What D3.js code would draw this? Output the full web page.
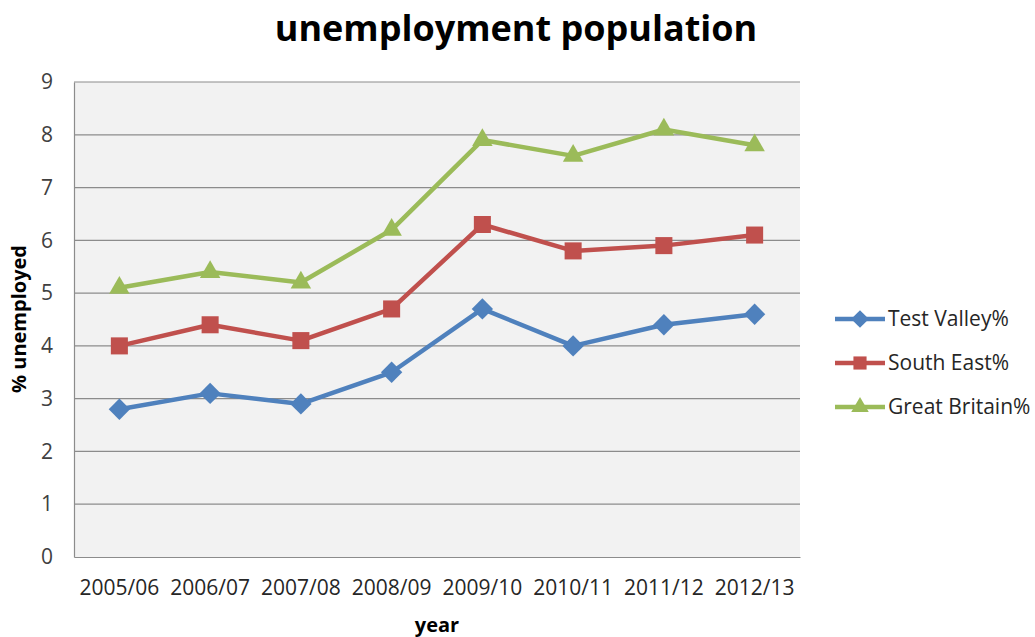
<!DOCTYPE html>
<html>
<head>
<meta charset="utf-8">
<script src="https://cdn.jsdelivr.net/npm/d3@7"></script>
<style>
  html, body { margin: 0; padding: 0; background: #ffffff; }
  svg { display: block; }
  text { font-family: "Open Sans", "Liberation Sans", sans-serif; }
</style>
</head>
<body>
<svg id="chart" width="1035" height="637"></svg>
<script>
// Academic years on the x axis
const years = ["2005/06", "2006/07", "2007/08", "2008/09", "2009/10", "2010/11", "2011/12", "2012/13"];

// Unemployment rates (%) per area
const testValley = [2.8, 3.1, 2.9, 3.5, 4.7, 4.0, 4.4, 4.6];
const southEast = [4.0, 4.4, 4.1, 4.7, 6.3, 5.8, 5.9, 6.1];
const greatBritain = [5.1, 5.4, 5.2, 6.2, 7.9, 7.6, 8.1, 7.8];

const seriesNames = ["Test Valley%", "South East%", "Great Britain%"];
const yTicks = [0, 1, 2, 3, 4, 5, 6, 7, 8, 9];

const series = [
  { name: seriesNames[0], values: testValley, color: "#4f81bd", symbol: d3.symbolDiamond2, size: 290, legendSize: 200 },
  { name: seriesNames[1], values: southEast, color: "#c0504d", symbol: d3.symbolSquare2, size: 370, legendSize: 220 },
  { name: seriesNames[2], values: greatBritain, color: "#9bbb59", symbol: d3.symbolTriangle2, size: 300, legendSize: 220 }
];

const svg = d3.select("#chart");
const plot = { left: 74, right: 800, top: 82, bottom: 557 };

const x = d3.scaleBand().domain(years).range([plot.left, plot.right]);
const y = d3.scaleLinear().domain([0, 9]).range([plot.bottom, plot.top]);

// Plot background
svg.append("rect")
  .attr("x", plot.left).attr("y", plot.top)
  .attr("width", plot.right - plot.left).attr("height", plot.bottom - plot.top)
  .attr("fill", "#f2f2f2");

// Horizontal gridlines
svg.append("g")
  .selectAll("line")
  .data(yTicks.filter(t => t > 0))
  .join("line")
  .attr("x1", plot.left).attr("x2", plot.right)
  .attr("y1", d => y(d)).attr("y2", d => y(d))
  .attr("stroke", "#8c8c8c").attr("stroke-width", 1.2);

// Y axis
const yAxis = svg.append("g")
  .attr("transform", `translate(${plot.left},0)`)
  .call(d3.axisLeft(y).tickValues(yTicks).tickSize(0).tickPadding(21).tickFormat(d3.format("d")));
yAxis.select(".domain").attr("stroke", "#8c8c8c").attr("stroke-width", 1.2);
yAxis.selectAll("text").attr("font-size", 21).attr("fill", "#404040")
  .style("font-family", "'Open Sans', sans-serif");

// X axis
const xAxis = svg.append("g")
  .attr("transform", `translate(0,${plot.bottom})`)
  .call(d3.axisBottom(x).tickSize(0).tickPadding(23));
xAxis.select(".domain").attr("stroke", "#8c8c8c").attr("stroke-width", 1.2);
xAxis.selectAll("text").attr("font-size", 21).attr("fill", "#262626")
  .style("font-family", "'Open Sans', sans-serif");

// Lines and markers
const line = d3.line()
  .x((d, i) => x(years[i]) + x.bandwidth() / 2)
  .y(d => y(d));

series.forEach(s => {
  svg.append("path")
    .datum(s.values)
    .attr("d", line)
    .attr("fill", "none")
    .attr("stroke", s.color)
    .attr("stroke-width", 4.5)
    .attr("stroke-linejoin", "round");

  svg.append("g")
    .selectAll("path")
    .data(s.values)
    .join("path")
    .attr("transform", (d, i) => `translate(${x(years[i]) + x.bandwidth() / 2},${y(d)})`)
    .attr("d", d3.symbol().type(s.symbol).size(s.size))
    .attr("fill", s.color);
});

// Title
svg.append("text")
  .attr("x", 516).attr("y", 41)
  .attr("text-anchor", "middle")
  .attr("font-size", 36).attr("font-weight", "bold").attr("fill", "#000")
  .text("unemployment population");

// Axis titles
svg.append("text")
  .attr("x", 437).attr("y", 632)
  .attr("text-anchor", "middle")
  .attr("font-size", 20).attr("font-weight", "bold").attr("fill", "#000")
  .text("year");

svg.append("text")
  .attr("transform", "translate(26,319) rotate(-90)")
  .attr("text-anchor", "middle")
  .attr("font-size", 20).attr("font-weight", "bold").attr("fill", "#000")
  .text("% unemployed");

// Legend
const legend = svg.append("g")
  .selectAll("g")
  .data(series)
  .join("g")
  .attr("transform", (d, i) => `translate(835,${319 + i * 44})`);

legend.append("line")
  .attr("x1", 0).attr("x2", 50)
  .attr("stroke", d => d.color).attr("stroke-width", 4.5);

legend.append("path")
  .attr("transform", "translate(25,0)")
  .attr("d", d => d3.symbol().type(d.symbol).size(d.legendSize)())
  .attr("fill", d => d.color);

legend.append("text")
  .attr("x", 53).attr("y", 0).attr("dy", "0.35em")
  .attr("font-size", 21).attr("fill", "#262626")
  .text(d => d.name);
</script>
</body>
</html>
